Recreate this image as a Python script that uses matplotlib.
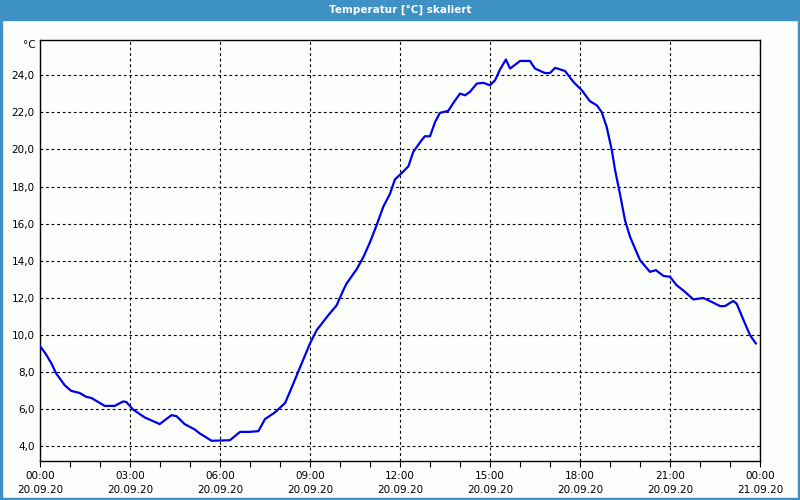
import matplotlib
matplotlib.use("Agg")
import matplotlib.pyplot as plt
from matplotlib.ticker import MultipleLocator, FixedLocator
from matplotlib.patches import Rectangle

# ── data (hours since 20.09.20 00:00, temperature in °C) ─────────────────
hours = [0.0, 0.2, 0.38, 0.54, 0.82, 1.04, 1.32, 1.54, 1.71, 2.16, 2.49, 2.77,
         2.88, 3.1, 3.49, 3.99, 4.38, 4.55, 4.82, 5.16, 5.33, 5.72, 6.33, 6.67,
         7.0, 7.28, 7.5, 7.83, 8.17, 8.33, 8.56, 9.0, 9.22, 9.61, 9.89, 10.11,
         10.22, 10.56, 10.78, 11.0, 11.22, 11.44, 11.67, 11.83, 12.06, 12.28,
         12.44, 12.72, 12.83, 13.0, 13.17, 13.33, 13.61, 13.78, 14.0, 14.17,
         14.33, 14.56, 14.78, 15.0, 15.17, 15.33, 15.53, 15.67, 16.0, 16.33,
         16.5, 16.83, 17.0, 17.17, 17.5, 17.78, 18.06, 18.33, 18.56, 18.72,
         18.89, 19.06, 19.17, 19.33, 19.5, 19.67, 20.0, 20.33, 20.53, 20.78,
         21.0, 21.22, 21.5, 21.78, 22.11, 22.39, 22.67, 22.83, 23.11, 23.22,
         23.5, 23.67, 23.86]
temps = [9.4, 8.95, 8.46, 7.92, 7.29, 6.98, 6.87, 6.66, 6.6, 6.17, 6.17, 6.41,
         6.38, 5.98, 5.55, 5.19, 5.67, 5.62, 5.19, 4.9, 4.68, 4.29, 4.32, 4.77,
         4.77, 4.81, 5.46, 5.82, 6.33, 6.93, 7.83, 9.54, 10.25, 11.06, 11.6, 12.41,
         12.77, 13.55, 14.2, 15.0, 15.91, 16.9, 17.62, 18.38, 18.73, 19.09,
         19.86, 20.5, 20.71, 20.71, 21.48, 21.97, 22.08, 22.51, 23.01, 22.92,
         23.1, 23.55, 23.59, 23.46, 23.73, 24.3, 24.85, 24.36, 24.77, 24.77,
         24.36, 24.12, 24.12, 24.4, 24.23, 23.64, 23.19, 22.6, 22.38, 22.02,
         21.21, 19.96, 18.88, 17.62, 16.18, 15.28, 14.03, 13.4, 13.49, 13.18,
         13.13, 12.68, 12.32, 11.91, 11.99, 11.78, 11.55, 11.55, 11.83, 11.69,
         10.61, 9.98, 9.54]

tick_hours = [0, 3, 6, 9, 12, 15, 18, 21, 24]
tick_labels = ["00:00\n20.09.20", "03:00\n20.09.20", "06:00\n20.09.20",
               "09:00\n20.09.20", "12:00\n20.09.20", "15:00\n20.09.20",
               "18:00\n20.09.20", "21:00\n20.09.20", "00:00\n21.09.20"]
y_ticks = [4, 6, 8, 10, 12, 14, 16, 18, 20, 22, 24]

TITLE_BLUE = "#3D91C4"
LINE_BLUE = "#0000EE"
BG = "#FCFEFC"

fig = plt.figure(figsize=(8, 5), dpi=100, facecolor=BG)

# title bar + thin window frame
fig.patches.append(Rectangle((0, 0.96), 1, 0.04, transform=fig.transFigure,
                             color=TITLE_BLUE, zorder=0))
for rect in [(0, 0, 0.0025, 1), (0.9975, 0, 0.0025, 1), (0, 0, 1, 0.004)]:
    fig.patches.append(Rectangle(rect[:2], rect[2], rect[3],
                                 transform=fig.transFigure, color=TITLE_BLUE))
fig.text(0.5, 0.98, "Temperatur [°C] skaliert", color="white",
         fontsize=7.5, fontweight="bold", ha="center", va="center")

ax = fig.add_axes([0.05, 0.078, 0.90, 0.842], facecolor=BG)
ax.plot(hours, temps, color=LINE_BLUE, linewidth=1.6, zorder=3)

ax.set_xlim(0, 24)
ax.set_ylim(3.2, 25.9)
ax.xaxis.set_major_locator(FixedLocator(tick_hours))
ax.set_xticklabels(tick_labels, fontsize=7.5, linespacing=1.55)
ax.xaxis.set_minor_locator(MultipleLocator(1))
ax.tick_params(axis="x", which="both", direction="out", length=4,
               width=0.8, pad=3)
ax.set_yticks(y_ticks)
ax.set_yticklabels([f"{v:.1f}".replace(".", ",") for v in y_ticks], fontsize=7.5)
ax.tick_params(axis="y", length=0, pad=4)

ax.grid(which="major", color="black", linewidth=0.8,
        linestyle=(0, (2.5, 2.5)), zorder=1)
for s in ax.spines.values():
    s.set_linewidth(1.0)

fig.text(0.045, 0.91, "°C", fontsize=7.5, ha="right", va="center")

fig.savefig("out.png", dpi=100, facecolor=BG)
